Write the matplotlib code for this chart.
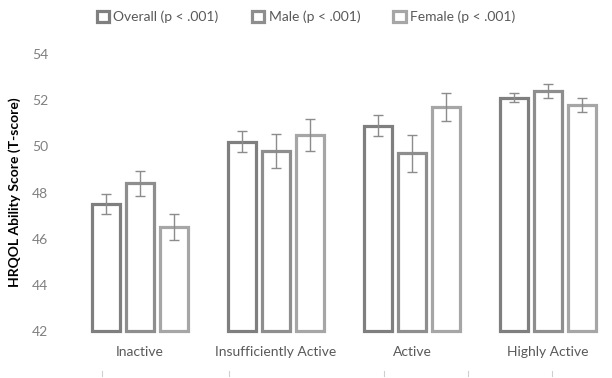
import matplotlib
matplotlib.use("Agg")
import matplotlib.pyplot as plt
import numpy as np
from matplotlib.patches import Rectangle
from matplotlib.lines import Line2D

plt.rcParams['font.family'] = ['Lato', 'DejaVu Sans']

categories = ["Inactive", "Insufficiently Active", "Active", "Highly Active"]
series_names = ["Overall (p < .001)", "Male (p < .001)", "Female (p < .001)"]
overall = [47.5, 50.2, 50.9, 52.1]
male = [48.4, 49.8, 49.7, 52.4]
female = [46.5, 50.5, 51.7, 51.8]
overall_err = [0.45, 0.45, 0.45, 0.2]
male_err = [0.55, 0.75, 0.8, 0.3]
female_err = [0.55, 0.7, 0.6, 0.3]
yticks = [42, 44, 46, 48, 50, 52, 54]

colors = ["#7f7f7f", "#8e8e8e", "#a6a6a6"]
values = [overall, male, female]
errs = [overall_err, male_err, female_err]

fig = plt.figure(figsize=(6.12, 3.78), dpi=100)
ax = fig.add_axes([72/612, 1-331/378, 540/612, (331-54)/378])

x = np.arange(len(categories))
width = 0.2
offsets = [-0.25, 0, 0.25]
handles = []
for vals, err, col, off, name in zip(values, errs, colors, offsets, series_names):
    bars = ax.bar(x + off, np.array(vals) - 42, bottom=42, width=width,
                  facecolor="white", edgecolor=col, linewidth=2.3, label=name, zorder=2)
    for r in bars:
        r.set_clip_on(False)
    ax.errorbar(x + off, vals, yerr=err, fmt="none", ecolor="#8c8c8c",
                elinewidth=1.0, capsize=3.5, capthick=1.0, zorder=3)
    handles.append(Rectangle((0, 0), 1, 1, facecolor="white", edgecolor=col, linewidth=2.3))

ax.set_xlim(-0.5, 3.47)
ax.set_ylim(42, 54)
ax.set_yticks(yticks)
ax.set_yticklabels([str(t) for t in yticks], color="#808080", fontsize=10)
ax.set_xticks(x)
ax.set_xticklabels(categories, color="#595959", fontsize=10)
ax.tick_params(axis="y", length=0, pad=17)
ax.tick_params(axis="x", length=0, pad=11)
for s in ax.spines.values():
    s.set_visible(False)
ax.set_ylabel("HRQOL Ability Score (T-score)", fontsize=10, fontweight="bold",
              color="black", labelpad=8)

leg = fig.legend(handles, series_names, loc="center", bbox_to_anchor=(0.5, 1-17/378),
                 ncol=3, frameon=False, fontsize=10, handlelength=0.9, handleheight=0.9,
                 handletextpad=0.3, columnspacing=2.4)
for t in leg.get_texts():
    t.set_color("#595959")

# faint marks along the bottom
for px in [102, 229, 384, 468, 552]:
    fig.add_artist(Line2D([px/612, px/612], [1-376/378, 1-371/378],
                          color="#cfcfcf", linewidth=0.8))

fig.savefig("out.png", dpi=100)
